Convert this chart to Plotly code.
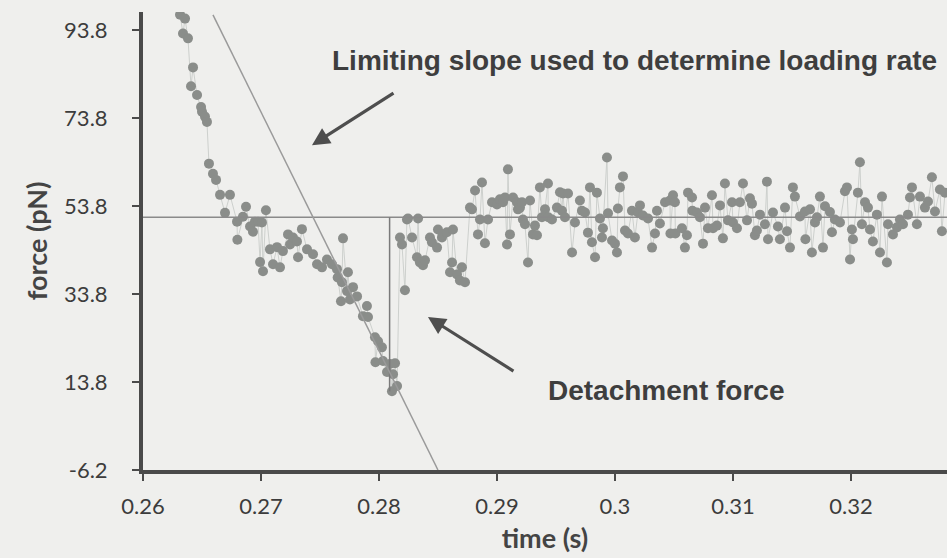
import plotly.graph_objects as go

# ---------------- data ----------------
time_s = [
    0.26314, 0.26339, 0.26356, 0.26381, 0.26407, 0.26424, 0.26458, 0.26492, 0.26500, 0.26525,
    0.26542, 0.26559, 0.26593, 0.26619, 0.26653, 0.26695, 0.26737, 0.26797, 0.26800, 0.26847,
    0.26873, 0.26907, 0.26932, 0.26949, 0.26975,
    0.26992, 0.27008, 0.27017, 0.27042, 0.27076, 0.27102, 0.27136, 0.27161, 0.27186, 0.27229,
    0.27246, 0.27271, 0.27305, 0.27314, 0.27347, 0.27390, 0.27441, 0.27475, 0.27517, 0.27559,
    0.27602, 0.27644, 0.27650, 0.27678, 0.27686, 0.27695, 0.27729, 0.27737, 0.27754, 0.27780,
    0.27814, 0.27864, 0.27898, 0.27907, 0.27966, 0.27970, 0.27992, 0.28025, 0.28034, 0.28068,
    0.28093, 0.28110, 0.28119, 0.28136, 0.28153,
    0.28178, 0.28195, 0.28220, 0.28237, 0.28246, 0.28280, 0.28322, 0.28331, 0.28347, 0.28373,
    0.28390, 0.28432, 0.28449, 0.28492, 0.28500, 0.28534, 0.28542, 0.28576, 0.28602, 0.28619,
    0.28627, 0.28661, 0.28686, 0.28703, 0.28729, 0.28771, 0.28788, 0.28814, 0.28839, 0.28856,
    0.28873, 0.28898, 0.28924, 0.28958, 0.29000, 0.29025, 0.29051, 0.29068, 0.29085, 0.29093,
    0.29110, 0.29136, 0.29169, 0.29178, 0.29195, 0.29212, 0.29220, 0.29237, 0.29263, 0.29280,
    0.29305, 0.29322, 0.29339, 0.29364, 0.29381, 0.29407, 0.29432, 0.29435, 0.29466, 0.29508,
    0.29534,
    0.29551, 0.29559, 0.29576, 0.29602, 0.29636, 0.29661, 0.29703, 0.29720, 0.29746, 0.29771,
    0.29788, 0.29805, 0.29831, 0.29847, 0.29873, 0.29890, 0.29898, 0.29932, 0.29941, 0.29975,
    0.30000, 0.30017, 0.30025, 0.30042, 0.30068, 0.30085, 0.30110, 0.30144, 0.30169, 0.30195,
    0.30212, 0.30237, 0.30280, 0.30314, 0.30339, 0.30356, 0.30381, 0.30424, 0.30466, 0.30470,
    0.30492, 0.30508, 0.30512, 0.30568, 0.30593, 0.30610, 0.30619, 0.30653, 0.30656, 0.30695,
    0.30720, 0.30746, 0.30763, 0.30788, 0.30822, 0.30831, 0.30864, 0.30890, 0.30915, 0.30932,
    0.30958, 0.30992, 0.31000, 0.31034, 0.31059, 0.31085, 0.31119, 0.31144, 0.31161, 0.31186,
    0.31203,
    0.31229, 0.31271, 0.31288, 0.31297, 0.31339, 0.31381, 0.31398, 0.31441, 0.31458, 0.31483,
    0.31508, 0.31525, 0.31568, 0.31610, 0.31614, 0.31653, 0.31669, 0.31695, 0.31712, 0.31737,
    0.31763, 0.31780, 0.31822, 0.31839, 0.31864, 0.31907, 0.31949, 0.31966, 0.31992, 0.32008,
    0.32017, 0.32059, 0.32076, 0.32093, 0.32119, 0.32144, 0.32161, 0.32186, 0.32220, 0.32246,
    0.32263, 0.32305, 0.32314, 0.32356, 0.32390, 0.32415, 0.32441, 0.32483, 0.32500, 0.32517,
    0.32559, 0.32585, 0.32627, 0.32653, 0.32686, 0.32712, 0.32754, 0.32771, 0.32797,
]

force_pN = [
    97.4, 93.1, 96.5, 92.0, 81.1, 85.4, 79.1, 76.4, 75.3, 74.2,
    73.0, 63.5, 61.2, 59.8, 56.4, 52.3, 56.4, 50.3, 46.2, 51.4,
    53.7, 49.2, 48.0, 50.3, 50.3,
    41.1, 50.1, 39.0, 52.9, 44.0, 40.6, 44.5, 39.9, 43.6, 47.4,
    45.1, 46.7, 45.8, 42.2, 48.6, 44.0, 42.9, 40.6, 39.9, 41.7,
    40.6, 39.5, 37.6, 32.2, 36.5, 46.5, 34.5, 38.8, 32.6, 35.4,
    33.3, 28.8, 31.1, 28.6, 24.0, 18.3, 23.1, 21.7, 18.6, 16.1,
    17.9, 11.7, 15.6, 18.1, 12.9,
    46.7, 45.1, 34.7, 50.8, 51.0, 46.7, 42.2, 51.0, 41.0, 40.4,
    41.5, 46.7, 45.6, 44.4, 48.5, 46.7, 47.4, 47.9, 38.8, 41.0,
    48.5, 38.3, 36.9, 39.9, 36.5, 53.5, 53.1, 57.4, 47.4, 50.8,
    59.2, 45.4, 50.8, 54.7, 54.2, 55.4, 54.7, 55.8, 45.1, 62.2,
    47.4, 55.8, 54.7, 53.1, 53.5, 54.7, 50.8, 49.7, 41.0, 55.1,
    47.4, 49.4, 47.2, 58.1, 51.3, 53.1, 59.0, 51.3, 50.8, 53.5,
    57.0,
    52.8, 56.7, 51.3, 56.7, 43.3, 50.1, 55.1, 52.8, 52.4, 47.8,
    58.1, 45.6, 42.2, 56.9, 51.0, 46.7, 48.8, 64.9, 52.2, 46.0,
    45.3, 43.3, 53.3, 58.1, 60.6, 48.3, 47.6, 52.8, 46.7, 52.4,
    54.0, 51.7, 51.0, 44.4, 47.6, 52.8, 49.9, 54.7, 55.1, 47.6,
    56.3, 54.7, 47.6, 48.8, 44.4, 47.2, 56.9, 55.8, 52.8, 52.4,
    51.3, 45.3, 53.5, 48.8, 56.3, 48.8, 49.4, 54.0, 46.5, 59.0,
    50.6, 54.7, 50.1, 48.8, 54.7, 59.0, 50.6, 55.6, 54.4, 47.2,
    48.3,
    51.9, 49.7, 59.4, 46.3, 52.4, 49.2, 46.3, 53.5, 48.1, 44.4,
    58.1, 56.0, 51.5, 52.6, 46.3, 53.1, 43.3, 50.1, 51.3, 56.0,
    44.4, 53.8, 52.5, 47.9, 50.8, 50.1, 57.2, 58.1, 41.7, 48.5,
    46.3, 56.9, 63.8, 49.7, 54.7, 53.5, 48.5, 45.8, 51.9, 43.3,
    56.0, 41.0, 49.7, 47.4, 49.0, 50.8, 49.7, 51.9, 55.8, 58.1,
    49.7, 56.0, 53.5, 54.9, 60.4, 52.6, 57.6, 48.1, 56.9,
]

x_tick_values = [0.26, 0.27, 0.28, 0.29, 0.30, 0.31, 0.32]
x_tick_labels = ["0.26", "0.27", "0.28", "0.29", "0.3", "0.31", "0.32"]
y_tick_values = [-6.2, 13.8, 33.8, 53.8, 73.8, 93.8]
y_tick_labels = ["-6.2", "13.8", "33.8", "53.8", "73.8", "93.8"]

x_range = [0.26, 0.32814]
y_range = [-6.2, 98.0]

plateau_force = 51.3           # horizontal reference line
detach_time = 0.2809           # detachment instant
detach_force = 11.7            # detachment force
slope_time = [0.26593, 0.2850] # limiting slope line end points
slope_force = [97.35, -6.2]

# ---------------- styles ----------------
BG = "#efefed"
AXIS = "#4a4a4a"
TEXT = "#3e3e3e"
MARK = "#8a8d8a"

fig = go.Figure()

fig.add_trace(go.Scatter(
    x=time_s, y=force_pN, mode="lines+markers",
    line=dict(color="#cdd0cd", width=1),
    marker=dict(color=MARK, size=10, line=dict(width=0)),
    hoverinfo="skip", showlegend=False,
))

fig.add_trace(go.Scatter(
    x=x_range, y=[plateau_force, plateau_force], mode="lines",
    line=dict(color="#8a8a8a", width=1.5), showlegend=False, hoverinfo="skip",
))

fig.add_trace(go.Scatter(
    x=[detach_time, detach_time], y=[plateau_force, detach_force], mode="lines",
    line=dict(color="#7a7a7a", width=1.5), showlegend=False, hoverinfo="skip",
))

fig.add_trace(go.Scatter(
    x=slope_time, y=slope_force, mode="lines",
    line=dict(color="#9a9a9a", width=1.5), showlegend=False, hoverinfo="skip",
))

ann_font = dict(family="Liberation Sans, Arial, sans-serif", size=28, color=TEXT)

fig.add_annotation(
    x=0.30169, y=87.0, xref="x", yref="y", text="<b>Limiting slope used to determine loading rate</b>",
    showarrow=False, font=ann_font, xanchor="center", yanchor="middle",
)
fig.add_annotation(
    x=0.30433, y=12.0, xref="x", yref="y", text="<b>Detachment force</b>",
    showarrow=False, font=ann_font, xanchor="center", yanchor="middle",
)
# arrows
fig.add_annotation(
    x=0.27432, y=67.7, xref="x", yref="y", ax=83, ay=-53, axref="pixel", ayref="pixel",
    text="", showarrow=True, arrowhead=2, arrowsize=1.1, arrowwidth=3.2, arrowcolor="#4e4e4e",
)
fig.add_annotation(
    x=0.28415, y=28.6, xref="x", yref="y", ax=87, ay=55, axref="pixel", ayref="pixel",
    text="", showarrow=True, arrowhead=2, arrowsize=1.1, arrowwidth=3.2, arrowcolor="#4e4e4e",
)

tick_font = dict(family="Lato, Open Sans, sans-serif", size=22, color="#3c3c3c")
title_font = dict(family="Lato, Open Sans, sans-serif", size=27, color="#444444")

fig.update_layout(
    width=947, height=558, autosize=False,
    margin=dict(l=143, r=0, t=11.5, b=88, pad=0),
    paper_bgcolor=BG, plot_bgcolor=BG,
    showlegend=False,
    xaxis=dict(
        range=x_range, tickmode="array", tickvals=x_tick_values, ticktext=x_tick_labels,
        showgrid=False, zeroline=False, showline=True, linewidth=4, linecolor=AXIS,
        ticks="outside", ticklen=7, tickwidth=2, tickcolor=AXIS, tickfont=tick_font,
        ticklabelstandoff=7,
        title=dict(text="<b>time (s)</b>", font=title_font, standoff=12),
    ),
    yaxis=dict(
        range=y_range, tickmode="array", tickvals=y_tick_values, ticktext=y_tick_labels,
        showgrid=False, zeroline=False, showline=True, linewidth=4, linecolor=AXIS,
        ticks="outside", ticklen=7, tickwidth=2, tickcolor=AXIS, tickfont=tick_font,
        ticklabelstandoff=20,
        title=dict(text="<b>force (pN)</b>", font=title_font, standoff=10),
    ),
)

fig.write_html("out.html")
